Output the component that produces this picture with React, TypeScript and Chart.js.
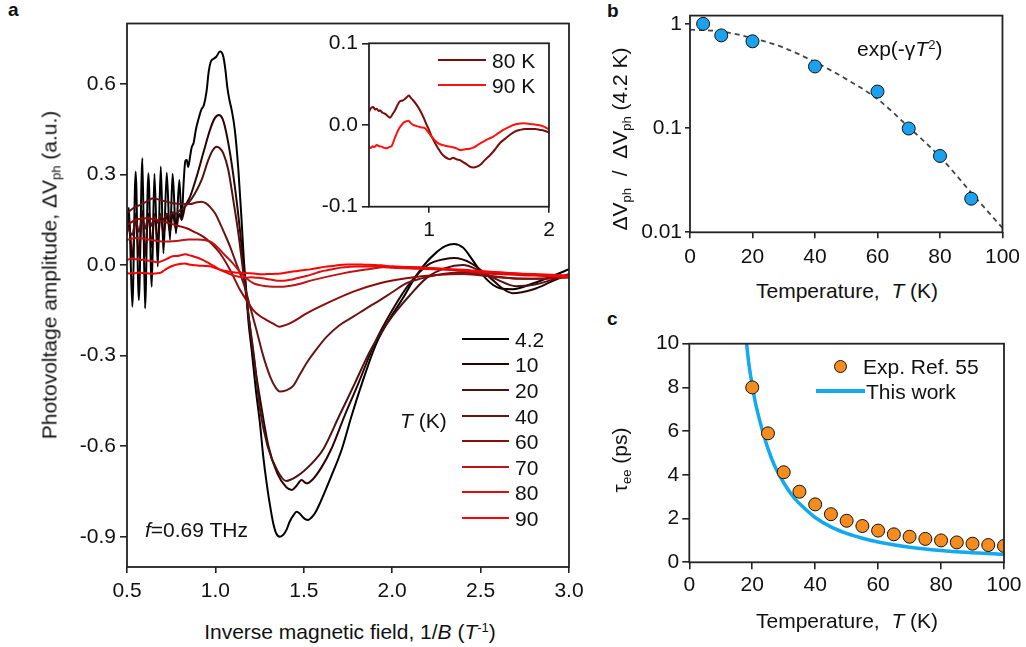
import React, { useEffect, useRef } from 'react';
import { Chart, registerables } from 'chart.js';
Chart.register(...registerables);

const FONT = "'Liberation Sans', Arial, Helvetica, sans-serif";
type P = [number, number];

// ---------- Panel a : photovoltage vs inverse field ----------
const xTicksA = [0.5, 1.0, 1.5, 2.0, 2.5, 3.0];
const xLabelsA = ['0.5', '1.0', '1.5', '2.0', '2.5', '3.0'];
const yTicksA = [-0.9, -0.6, -0.3, 0.0, 0.3, 0.6];
const yLabelsA = ['-0.9', '-0.6', '-0.3', '0.0', '0.3', '0.6'];

const tempLabels = ['4.2', '10', '20', '40', '60', '70', '80', '90'];
const tempColors = ['#000000', '#2b0303', '#4f1111', '#691515', '#8c0b0b', '#bb1414', '#e30c0c', '#ff0000'];

const curve4_2: P[] = [
  [0.500, 0.12], [0.511, 0.19], [0.530, -0.138], [0.549, 0.309], [0.567, -0.116], [0.587, 0.354], [0.602, -0.143],
  [0.621, 0.304], [0.640, -0.072], [0.655, 0.302], [0.674, -0.005], [0.691, 0.326], [0.706, 0.039], [0.725, 0.306],
  [0.743, 0.083], [0.758, 0.302], [0.777, 0.105], [0.796, 0.282], [0.809, 0.149], [0.820, 0.27], [0.830, 0.345],
  [0.838, 0.348], [0.846, 0.325], [0.857, 0.36], [0.866, 0.39], [0.877, 0.405], [0.890, 0.45], [0.905, 0.485],
  [0.920, 0.514], [0.935, 0.53], [0.950, 0.575], [0.962, 0.64], [0.975, 0.675], [0.990, 0.683], [1.005, 0.69],
  [1.026, 0.707], [1.045, 0.69], [1.058, 0.64], [1.067, 0.59], [1.080, 0.545], [1.092, 0.514], [1.110, 0.447],
  [1.130, 0.315], [1.148, 0.149], [1.161, 0.017], [1.173, -0.072], [1.186, -0.182], [1.205, -0.281], [1.230, -0.42],
  [1.252, -0.524], [1.270, -0.63], [1.290, -0.723], [1.310, -0.80], [1.327, -0.855], [1.345, -0.89], [1.365, -0.90],
  [1.385, -0.893], [1.402, -0.877], [1.420, -0.85], [1.440, -0.830], [1.459, -0.817], [1.475, -0.822], [1.490, -0.832],
  [1.510, -0.842], [1.525, -0.844], [1.545, -0.835], [1.563, -0.822], [1.591, -0.789], [1.655, -0.70], [1.715, -0.61],
  [1.770, -0.50], [1.830, -0.39], [1.910, -0.26], [2.000, -0.165], [2.060, -0.11], [2.120, -0.05], [2.180, 0.0],
  [2.250, 0.042], [2.300, 0.063], [2.350, 0.07], [2.400, 0.058], [2.460, 0.012], [2.530, -0.045], [2.610, -0.077],
  [2.680, -0.08], [2.800, -0.06], [2.900, -0.038], [3.000, -0.014],
];
const curve10: P[] = [
  [0.500, 0.10], [0.511, 0.15], [0.530, 0.02], [0.549, 0.17], [0.567, 0.03], [0.587, 0.18], [0.602, 0.03], [0.621, 0.17],
  [0.640, 0.06], [0.655, 0.17], [0.674, 0.08], [0.691, 0.17], [0.706, 0.10], [0.725, 0.17], [0.743, 0.11], [0.758, 0.17],
  [0.777, 0.12], [0.796, 0.17], [0.809, 0.15], [0.828, 0.193], [0.857, 0.227], [0.894, 0.293], [0.931, 0.37],
  [0.969, 0.447], [0.995, 0.485], [1.020, 0.497], [1.040, 0.485], [1.054, 0.458], [1.083, 0.37], [1.110, 0.26],
  [1.139, 0.116], [1.161, -0.016], [1.186, -0.16], [1.220, -0.32], [1.260, -0.47], [1.300, -0.60], [1.350, -0.69],
  [1.400, -0.735], [1.433, -0.745], [1.460, -0.73], [1.487, -0.712], [1.516, -0.723], [1.550, -0.71], [1.600, -0.67],
  [1.655, -0.61], [1.730, -0.50], [1.810, -0.39], [1.900, -0.26], [2.000, -0.15], [2.100, -0.06], [2.200, 0.0],
  [2.300, 0.02], [2.350, 0.023], [2.450, 0.005], [2.550, -0.04], [2.630, -0.08], [2.680, -0.093], [2.800, -0.08],
  [2.900, -0.055], [3.000, -0.03],
];
const curve20: P[] = [
  [0.500, 0.13], [0.530, 0.10], [0.549, 0.15], [0.567, 0.11], [0.587, 0.16], [0.602, 0.12], [0.621, 0.16], [0.640, 0.13],
  [0.655, 0.16], [0.674, 0.14], [0.691, 0.165], [0.706, 0.15], [0.725, 0.17], [0.743, 0.16], [0.758, 0.175],
  [0.777, 0.17], [0.796, 0.18], [0.820, 0.19], [0.847, 0.205], [0.885, 0.238], [0.922, 0.282], [0.960, 0.348],
  [0.985, 0.38], [1.007, 0.392], [1.025, 0.387], [1.045, 0.37], [1.073, 0.315], [1.101, 0.216], [1.130, 0.105],
  [1.158, -0.027], [1.186, -0.16], [1.220, -0.31], [1.250, -0.47], [1.295, -0.60], [1.350, -0.68], [1.400, -0.715],
  [1.460, -0.70], [1.540, -0.66], [1.610, -0.61], [1.700, -0.50], [1.790, -0.39], [1.870, -0.29], [1.930, -0.23],
  [2.000, -0.17], [2.100, -0.10], [2.200, -0.04], [2.300, -0.01], [2.400, 0.0], [2.500, -0.02], [2.600, -0.05],
  [2.700, -0.07], [2.800, -0.065], [2.900, -0.05], [3.000, -0.03],
];
const curve40: P[] = [
  [0.500, 0.172], [0.540, 0.19], [0.575, 0.199], [0.610, 0.21], [0.649, 0.221], [0.690, 0.215], [0.724, 0.21],
  [0.760, 0.205], [0.800, 0.202], [0.857, 0.202], [0.890, 0.207], [0.922, 0.21], [0.945, 0.205], [0.969, 0.193],
  [1.000, 0.17], [1.026, 0.138], [1.055, 0.10], [1.083, 0.061], [1.110, 0.018], [1.139, -0.027], [1.170, -0.08],
  [1.196, -0.138], [1.230, -0.21], [1.270, -0.30], [1.310, -0.37], [1.340, -0.405], [1.365, -0.419], [1.400, -0.415],
  [1.440, -0.40], [1.480, -0.36], [1.515, -0.325], [1.570, -0.28], [1.630, -0.237], [1.700, -0.20], [1.780, -0.171],
  [1.850, -0.145], [1.931, -0.116], [2.000, -0.09], [2.082, -0.06], [2.160, -0.045], [2.252, -0.033], [2.400, -0.025],
  [2.550, -0.035], [2.700, -0.045], [2.850, -0.045], [3.000, -0.04],
];
const curve60: P[] = [
  [0.500, 0.133], [0.550, 0.150], [0.611, 0.155], [0.680, 0.148], [0.743, 0.138], [0.800, 0.128], [0.837, 0.122],
  [0.880, 0.11], [0.931, 0.094], [0.980, 0.07], [1.026, 0.039], [1.083, -0.016], [1.139, -0.082], [1.180, -0.12],
  [1.214, -0.149], [1.250, -0.168], [1.290, -0.182], [1.330, -0.195], [1.362, -0.204], [1.400, -0.198],
  [1.440, -0.187], [1.516, -0.16], [1.629, -0.127], [1.780, -0.088], [1.930, -0.06], [2.080, -0.044], [2.250, -0.033],
  [2.400, -0.03], [2.600, -0.04], [2.800, -0.045], [3.000, -0.04],
];
const curve70: P[] = [
  [0.500, 0.083], [0.550, 0.09], [0.620, 0.085], [0.700, 0.078], [0.780, 0.08], [0.850, 0.085], [0.900, 0.085],
  [0.969, 0.078], [1.010, 0.06], [1.050, 0.035], [1.100, 0.005], [1.150, -0.03], [1.214, -0.06], [1.290, -0.07],
  [1.370, -0.072], [1.450, -0.066], [1.550, -0.05], [1.700, -0.03], [1.850, -0.015], [2.000, -0.005], [2.200, -0.01],
  [2.400, -0.02], [2.600, -0.03], [2.800, -0.035], [3.000, -0.04],
];
const curve80: P[] = [
  [0.500, 0.016], [0.518, 0.021], [0.536, 0.022], [0.550, 0.019], [0.565, 0.020], [0.580, 0.017], [0.592, 0.018],
  [0.612, 0.015], [0.633, 0.014], [0.655, 0.011], [0.675, 0.009], [0.700, 0.014], [0.717, 0.018], [0.740, 0.025],
  [0.758, 0.029], [0.780, 0.030], [0.800, 0.032], [0.815, 0.034], [0.833, 0.036], [0.850, 0.033], [0.869, 0.030],
  [0.900, 0.024], [0.925, 0.018], [0.955, 0.009], [0.981, 0.0], [1.000, -0.006], [1.022, -0.014], [1.050, -0.022],
  [1.078, -0.029], [1.105, -0.035], [1.133, -0.039], [1.155, -0.041], [1.175, -0.042], [1.200, -0.040],
  [1.230, -0.042], [1.258, -0.043], [1.290, -0.046], [1.314, -0.048], [1.340, -0.051], [1.369, -0.052],
  [1.400, -0.051], [1.425, -0.049], [1.465, -0.043], [1.508, -0.037], [1.550, -0.030], [1.592, -0.022],
  [1.633, -0.017], [1.675, -0.012], [1.715, -0.008], [1.758, -0.006], [1.800, -0.005], [1.842, -0.005],
  [1.885, -0.005], [1.925, -0.006], [1.960, -0.007], [2.000, -0.009], [2.150, -0.012], [2.300, -0.015],
  [2.450, -0.02], [2.600, -0.025], [2.800, -0.03], [3.000, -0.035],
];
const curve90: P[] = [
  [0.500, -0.027], [0.515, -0.028], [0.530, -0.026], [0.545, -0.027], [0.564, -0.0245], [0.585, -0.026],
  [0.606, -0.0265], [0.627, -0.028], [0.647, -0.0286], [0.668, -0.027], [0.689, -0.0257], [0.710, -0.018],
  [0.731, -0.0102], [0.752, -0.004], [0.772, 0.0], [0.790, 0.003], [0.810, 0.0045], [0.828, 0.0053], [0.850, 0.002],
  [0.869, 0.0], [0.890, -0.001], [0.911, -0.002], [0.940, -0.003], [0.967, -0.004], [0.995, -0.009], [1.022, -0.0143],
  [1.050, -0.019], [1.078, -0.0224], [1.110, -0.0245], [1.147, -0.0257], [1.190, -0.027], [1.230, -0.0286],
  [1.258, -0.0306], [1.290, -0.030], [1.314, -0.0294], [1.340, -0.029], [1.369, -0.0277], [1.410, -0.024],
  [1.453, -0.0204], [1.495, -0.017], [1.536, -0.0143], [1.578, -0.010], [1.619, -0.006], [1.660, -0.003],
  [1.703, 0.0], [1.745, 0.0015], [1.786, 0.002], [1.828, 0.0015], [1.869, 0.001], [1.905, 0.0], [1.940, -0.001],
  [1.970, -0.003], [2.000, -0.005], [2.150, -0.008], [2.300, -0.012], [2.450, -0.018], [2.600, -0.024],
  [2.800, -0.032], [3.000, -0.04],
];
const curvesA: P[][] = [curve4_2, curve10, curve20, curve40, curve60, curve70, curve80, curve90];

// inset
const insetXTicks = [1, 2];
const insetXLabels = ['1', '2'];
const insetYTicks = [-0.1, 0.0, 0.1];
const insetYLabels = ['-0.1', '0.0', '0.1'];
const insetLabels = ['80 K', '90 K'];
const insetColors = ['#7a0c0c', '#ff1111'];

// ---------- Panel b ----------
const bTemps = [4.2, 10, 20, 40, 60, 70, 80, 90];
const bRatio = [1.0, 0.775, 0.68, 0.39, 0.224, 0.099, 0.054, 0.021];
const bFitT = [0, 10, 20, 30, 40, 50, 60, 70, 80, 90, 100];
const bFitV = [0.88, 0.845, 0.73, 0.59, 0.43, 0.295, 0.19, 0.102, 0.053, 0.024, 0.011];
const bXTicks = [0, 20, 40, 60, 80, 100];
const bXLabels = ['0', '20', '40', '60', '80', '100'];
const bYTicks = [0.01, 0.1, 1];
const bYLabels = ['0.01', '0.1', '1'];

// ---------- Panel c ----------
const cTemps = [20, 25, 30, 35, 40, 45, 50, 55, 60, 65, 70, 75, 80, 85, 90, 95, 100];
const cTau = [8.0, 5.9, 4.12, 3.23, 2.65, 2.2, 1.9, 1.66, 1.45, 1.28, 1.17, 1.07, 1.0, 0.91, 0.85, 0.79, 0.75];
const cLineT = [18.2, 19, 20, 21, 22, 23, 25, 27, 30, 33, 36, 40, 45, 50, 55, 60, 70, 80, 90, 100];
const cLineV = [10, 9.0, 8.1, 7.3, 6.7, 6.15, 5.2, 4.45, 3.64, 3.0, 2.55, 2.05, 1.62, 1.32, 1.1, 0.93, 0.69, 0.54, 0.44, 0.36];
const cXTicks = [0, 20, 40, 60, 80, 100];
const cXLabels = ['0', '20', '40', '60', '80', '100'];
const cYTicks = [0, 2, 4, 6, 8, 10];
const cYLabels = ['0', '2', '4', '6', '8', '10'];

const BLUE_PT = '#1ba1ee';
const BLUE_LINE = '#12a9f0';
const ORANGE = '#f78c1e';

// ---------- helpers ----------
const framePlugin = {
  id: 'frame',
  afterDatasetsDraw(chart: any) {
    const { ctx, chartArea: a } = chart;
    ctx.save();
    ctx.strokeStyle = '#222';
    ctx.lineWidth = 1.8;
    ctx.strokeRect(a.left, a.top, a.right - a.left, a.bottom - a.top);
    ctx.restore();
  },
};

function scale(o: {
  type?: string; min: number; max: number; ticks: number[]; labels: string[];
  size: number; horizontal: boolean; tickLength: number; padding: number;
}) {
  return {
    type: o.type ?? 'linear',
    min: o.min,
    max: o.max,
    border: { display: false },
    grid: {
      display: true, drawOnChartArea: false, drawTicks: true, tickLength: o.tickLength,
      tickWidth: 1.6, tickColor: '#222', color: '#222', lineWidth: 1.6,
    },
    ticks: {
      autoSkip: false, maxRotation: 0, minRotation: 0, padding: o.padding, color: '#111',
      font: { family: FONT, size: 21 },
      callback: (_v: any, i: number) => o.labels[i],
    },
    afterBuildTicks: (s: any) => { s.ticks = o.ticks.map((v) => ({ value: v })); },
    afterFit: (s: any) => { if (o.horizontal) s.height = o.size; else s.width = o.size; },
  };
}

const lineDs = (pts: P[], color: string, width: number, order: number) => ({
  data: pts.map(([x, y]) => ({ x, y })),
  borderColor: color,
  borderWidth: width,
  pointRadius: 0,
  pointHoverRadius: 0,
  cubicInterpolationMode: 'monotone',
  fill: false,
  order,
});

function baseOptions(padding: any, scales: any) {
  return {
    responsive: false,
    animation: false,
    devicePixelRatio: 1,
    events: [],
    layout: { padding },
    plugins: { legend: { display: false }, tooltip: { enabled: false } },
    scales,
  };
}

const Sub = ({ children }: any) => (
  <span style={{ fontSize: '0.62em', position: 'relative', top: '0.32em' }}>{children}</span>
);
const Sup = ({ children }: any) => (
  <span style={{ fontSize: '0.62em', position: 'relative', top: '-0.55em' }}>{children}</span>
);

const Txt = ({ x, y, a = 'l', size = 21, bold = false, rot = false, children }: any) => (
  <div
    style={{
      position: 'absolute', left: x, top: y, fontFamily: FONT, fontSize: size,
      fontWeight: bold ? 'bold' : 'normal', lineHeight: 1, whiteSpace: 'nowrap', color: '#111',
      transform: `translate(${a === 'l' ? '0' : a === 'c' ? '-50%' : '-100%'}, -50%)${rot ? ' rotate(-90deg)' : ''}`,
    }}
  >
    {children}
  </div>
);

const Bar = ({ x1, x2, y, color, w = 2 }: any) => (
  <div style={{ position: 'absolute', left: x1, top: y - w / 2, width: x2 - x1, height: w, background: color }} />
);

export default function App() {
  const refA = useRef<HTMLCanvasElement>(null);
  const refI = useRef<HTMLCanvasElement>(null);
  const refB = useRef<HTMLCanvasElement>(null);
  const refC = useRef<HTMLCanvasElement>(null);

  useEffect(() => {
    const charts: Chart[] = [];

    charts.push(new Chart(refA.current!, {
      type: 'line',
      data: { datasets: curvesA.map((c, i) => lineDs(c, tempColors[i], 2, curvesA.length - 1 - i)) as any },
      options: baseOptions({ top: 23.5, right: 31, left: 0, bottom: 0 }, {
        x: scale({ min: 0.5, max: 3.0, ticks: xTicksA, labels: xLabelsA, size: 33, horizontal: true, tickLength: 6, padding: 6 }),
        y: scale({ min: -1.0, max: 0.8, ticks: yTicksA, labels: yLabelsA, size: 67, horizontal: false, tickLength: 7, padding: 4 }),
      }) as any,
      plugins: [framePlugin],
    }));

    charts.push(new Chart(refI.current!, {
      type: 'line',
      data: {
        datasets: [
          lineDs(curve80, insetColors[0], 2, 1),
          lineDs(curve90, insetColors[1], 2, 0),
        ] as any,
      },
      options: baseOptions({ top: 23.3, right: 21, left: 0, bottom: 0 }, {
        x: scale({ min: 0.5, max: 2.0, ticks: insetXTicks, labels: insetXLabels, size: 38.3, horizontal: true, tickLength: 6, padding: 5 }),
        y: scale({ min: -0.1, max: 0.1, ticks: insetYTicks, labels: insetYLabels, size: 69, horizontal: false, tickLength: 7, padding: 4 }),
      }) as any,
      plugins: [framePlugin],
    }));

    charts.push(new Chart(refB.current!, {
      type: 'line',
      data: {
        datasets: [
          {
            data: bTemps.map((t, i) => ({ x: t, y: bRatio[i] })),
            showLine: false, pointRadius: 6.5, pointBackgroundColor: BLUE_PT, pointBorderColor: '#111',
            pointBorderWidth: 1, pointHoverRadius: 6.5, order: 0,
          },
          {
            data: bFitT.map((t, i) => ({ x: t, y: bFitV[i] })),
            borderColor: '#444', borderWidth: 1.8, borderDash: [5, 4], pointRadius: 0,
            cubicInterpolationMode: 'monotone', fill: false, order: 1,
          },
        ] as any,
      },
      options: baseOptions({ top: 15, right: 22.7, left: 0, bottom: 0 }, {
        x: scale({ min: 0, max: 100, ticks: bXTicks, labels: bXLabels, size: 37.7, horizontal: true, tickLength: 6, padding: 6 }),
        y: scale({ type: 'logarithmic', min: 0.01, max: 1.2, ticks: bYTicks, labels: bYLabels, size: 70, horizontal: false, tickLength: 5, padding: 3 }),
      }) as any,
      plugins: [framePlugin],
    }));

    charts.push(new Chart(refC.current!, {
      type: 'line',
      data: {
        datasets: [
          {
            data: cTemps.map((t, i) => ({ x: t, y: cTau[i] })),
            showLine: false, pointRadius: 6.5, pointBackgroundColor: ORANGE, pointBorderColor: '#111',
            pointBorderWidth: 1, pointHoverRadius: 6.5, order: 0, clip: 0,
          },
          {
            data: cLineT.map((t, i) => ({ x: t, y: cLineV[i] })),
            borderColor: BLUE_LINE, borderWidth: 3.5, pointRadius: 0,
            cubicInterpolationMode: 'monotone', fill: false, order: 1,
          },
        ] as any,
      },
      options: baseOptions({ top: 23.7, right: 22, left: 0, bottom: 0 }, {
        x: scale({ min: 0, max: 100, ticks: cXTicks, labels: cXLabels, size: 47.7, horizontal: true, tickLength: 7, padding: 3 }),
        y: scale({ min: 0, max: 10, ticks: cYTicks, labels: cYLabels, size: 69.3, horizontal: false, tickLength: 7, padding: 3 }),
      }) as any,
      plugins: [framePlugin],
    }));

    return () => charts.forEach((c) => c.destroy());
  }, []);

  const legendTop = 338.7;
  const legendStep = 25.6;

  return (
    <div style={{ position: 'absolute', left: 0, top: 0, width: 1026, height: 647, background: '#fff', overflow: 'hidden' }}>
      <canvas ref={refA} width={540} height={600} style={{ position: 'absolute', left: 60, top: 0 }} />
      <canvas ref={refI} width={270} height={225} style={{ position: 'absolute', left: 300, top: 20 }} />
      <canvas ref={refB} width={406} height={270} style={{ position: 'absolute', left: 620, top: 0 }} />
      <canvas ref={refC} width={406} height={290} style={{ position: 'absolute', left: 620, top: 320 }} />

      {/* panel letters */}
      <Txt x={8} y={9} size={19} bold>a</Txt>
      <Txt x={607} y={10} size={19} bold>b</Txt>
      <Txt x={607} y={318} size={19} bold>c</Txt>

      {/* panel a titles */}
      <Txt x={49} y={275} a="c" rot>
        Photovoltage amplitude, ΔV<Sub>ph</Sub> (a.u.)
      </Txt>
      <Txt x={350} y={631} a="c">
        Inverse magnetic field, 1/<i>B</i> (<i>T</i><Sup>-1</Sup>)
      </Txt>
      <Txt x={145} y={529}><i>f</i>=0.69 THz</Txt>
      <Txt x={400} y={420}><i>T</i> (K)</Txt>
      {tempLabels.map((t, i) => (
        <React.Fragment key={t}>
          <Bar x1={462} x2={509} y={legendTop + i * legendStep} color={tempColors[i]} />
          <Txt x={515} y={legendTop + i * legendStep}>{t}</Txt>
        </React.Fragment>
      ))}
      {insetLabels.map((t, i) => (
        <React.Fragment key={t}>
          <Bar x1={438} x2={486} y={60 + i * 25} color={insetColors[i]} />
          <Txt x={492} y={60 + i * 25}>{t}</Txt>
        </React.Fragment>
      ))}

      {/* panel b */}
      <Txt x={619} y={139} a="c" rot>
        ΔV<Sub>ph</Sub>&nbsp;&nbsp;/&nbsp;&nbsp;ΔV<Sub>ph</Sub> (4.2 K)
      </Txt>
      <Txt x={847} y={290} a="c">Temperature,&nbsp; <i>T</i> (K)</Txt>
      <Txt x={857} y={48}>exp(-γ<i>T</i><Sup>2</Sup>)</Txt>

      {/* panel c */}
      <Txt x={619} y={460} a="c" rot>
        τ<Sub>ee</Sub> (ps)
      </Txt>
      <Txt x={847} y={620} a="c">Temperature,&nbsp; <i>T</i> (K)</Txt>
      <div style={{
        position: 'absolute', left: 840 - 6.5, top: 366 - 6.5, width: 13, height: 13, borderRadius: '50%',
        background: ORANGE, border: '1px solid #111', boxSizing: 'border-box',
      }} />
      <Txt x={863} y={366}>Exp. Ref. 55</Txt>
      <Bar x1={816} x2={865} y={391} color={BLUE_LINE} w={3.5} />
      <Txt x={866} y={391}>This work</Txt>
    </div>
  );
}
